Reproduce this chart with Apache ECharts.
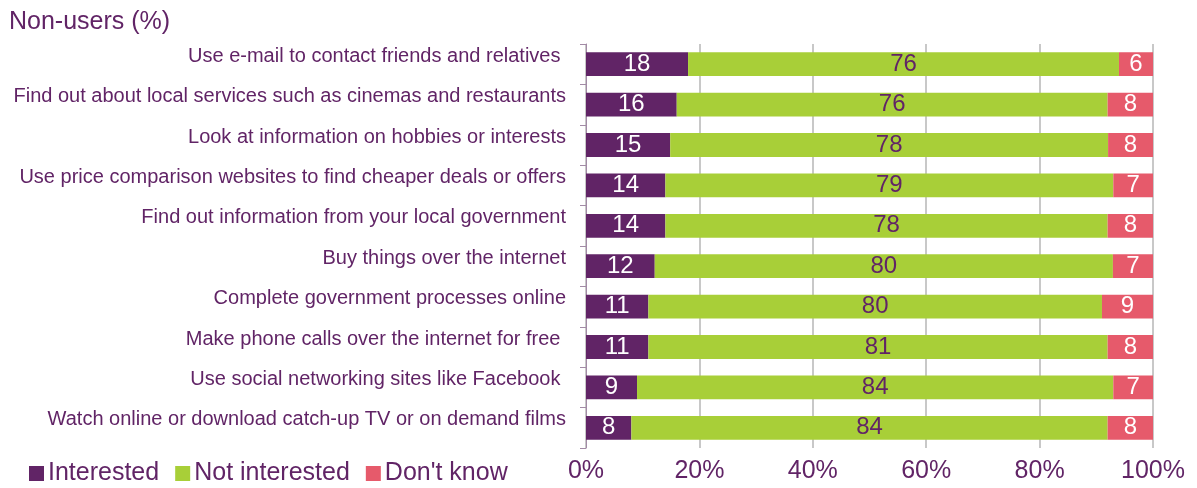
<!DOCTYPE html>
<html>
<head>
<meta charset="utf-8">
<script src="https://cdn.jsdelivr.net/npm/echarts@6/dist/echarts.min.js"></script>
<style>
  html, body { margin: 0; padding: 0; background: #fff; }
  #chart { width: 1197px; height: 488px; }
</style>
</head>
<body>
<div id="chart"></div>
<script>
// Activities asked about, top to bottom
const categories = [
  'Use e-mail to contact friends and relatives ',
  'Find out about local services such as cinemas and restaurants',
  'Look at information on hobbies or interests',
  'Use price comparison websites to find cheaper deals or offers',
  'Find out information from your local government',
  'Buy things over the internet',
  'Complete government processes online',
  'Make phone calls over the internet for free ',
  'Use social networking sites like Facebook ',
  'Watch online or download catch-up TV or on demand films'
];
// Responses (%), rounded
const interested    = [18, 16, 15, 14, 14, 12, 11, 11, 9, 8];
const notInterested = [76, 76, 78, 79, 78, 80, 80, 81, 84, 84];
const dontKnow      = [6, 8, 8, 7, 8, 7, 9, 8, 7, 8];
const tickLabels = ['0%', '20%', '40%', '60%', '80%', '100%'];

const PURPLE = '#612466';
const GREEN = '#a8cf38';
const RED = '#e65a6b';
const FONT = 'Liberation Sans, Arial, sans-serif';

// Each row is scaled to a 100% total so rounding does not push bars past the axis
const totals = categories.map((_, i) => interested[i] + notInterested[i] + dontKnow[i]);
const share = arr => arr.map((v, i) => ({ value: v / totals[i] * 100, raw: v }));

function series(name, arr, color, labelColor) {
  return {
    name, type: 'bar', stack: 'all', data: share(arr),
    barWidth: '59%',
    itemStyle: { color },
    label: {
      show: true, position: 'inside', color: labelColor,
      fontFamily: FONT, fontSize: 24,
      formatter: p => String(p.data.raw)
    },
    emphasis: { disabled: true }
  };
}

const chart = echarts.init(document.getElementById('chart'));
chart.setOption({
  animation: false,
  title: {
    text: 'Non-users (%)', left: 4, top: 5,
    textStyle: { color: PURPLE, fontFamily: FONT, fontSize: 25, fontWeight: 'normal' }
  },
  legend: {
    left: 24, top: 456, itemWidth: 15, itemHeight: 15, itemGap: 16,
    icon: 'rect',
    textStyle: { color: PURPLE, fontFamily: FONT, fontSize: 25, padding: [0, 0, 0, -1] },
    data: ['Interested', 'Not interested', "Don't know"]
  },
  grid: { left: 586, right: 44, top: 44, bottom: 40, containLabel: false },
  xAxis: {
    type: 'value', min: 0, max: 100, interval: 20,
    axisLine: { show: false }, axisTick: { show: false },
    splitLine: { show: true, lineStyle: { color: '#c8c8c8', width: 2 } },
    axisLabel: {
      color: PURPLE, fontFamily: FONT, fontSize: 25, margin: 11,
      formatter: (v) => tickLabels[Math.round(v / 20)]
    }
  },
  yAxis: {
    type: 'category', data: categories, inverse: true,
    axisLine: { show: true, lineStyle: { color: '#a38ba6', width: 1 } },
    axisTick: { show: true, length: 6, lineStyle: { color: '#a38ba6' } },
    axisLabel: {
      color: PURPLE, fontFamily: FONT, fontSize: 20, margin: 20,
      verticalAlign: 'bottom', lineHeight: 16
    }
  },
  series: [
    series('Interested', interested, PURPLE, '#ffffff'),
    series('Not interested', notInterested, GREEN, PURPLE),
    series("Don't know", dontKnow, RED, '#ffffff')
  ]
});
</script>
</body>
</html>
